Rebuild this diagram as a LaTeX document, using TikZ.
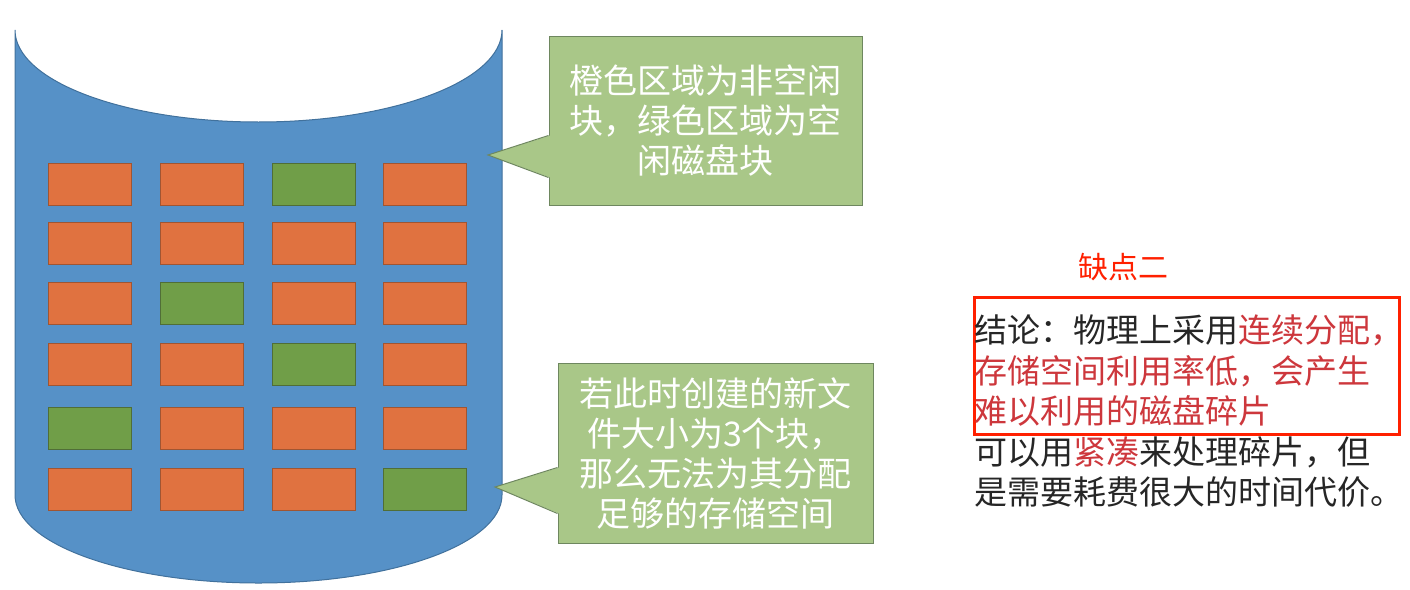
\documentclass[tikz,border=0pt]{standalone}
\usepackage{fontspec}
\setmainfont{Noto Sans CJK SC}
\usetikzlibrary{calc}

\definecolor{diskblue}{RGB}{86,145,199}
\definecolor{diskline}{RGB}{65,113,156}
\definecolor{busyfill}{RGB}{224,114,64}
\definecolor{busyline}{RGB}{160,85,50}
\definecolor{freefill}{RGB}{112,158,72}
\definecolor{freeline}{RGB}{80,110,55}
\definecolor{notefill}{RGB}{169,199,136}
\definecolor{noteline}{RGB}{110,135,95}
\definecolor{alertred}{RGB}{255,32,0}
\definecolor{textred}{RGB}{205,55,60}

\tikzset{
  busy/.style={draw=busyline, fill=busyfill, line width=1pt},
  freeblk/.style={draw=freeline, fill=freefill, line width=1pt},
  notebox/.style={draw=noteline, fill=notefill, line width=1pt, text=white,
    align=center, inner sep=0pt, font=\fontsize{34}{40}\selectfont},
  pointer/.style={draw=noteline, line width=1pt},
}

\begin{document}
\begin{tikzpicture}[x=1pt, y=1pt]
	\useasboundingbox (0,0) rectangle (1410,-589);
	% --- 磁盘（圆柱体） ---
	\filldraw[fill=diskblue, draw=diskline, line width=1pt] (15,-30)
		arc[start angle=180, end angle=360, x radius=243.5, y radius=92]
		-- (502,-495)
		arc[start angle=0, end angle=-180, x radius=243.5, y radius=88] -- cycle;
	% 磁盘块：先全部画成橙色（非空闲）
	\foreach \y in {163,222,282,343,407,468}
		\foreach \x in {48,160,272,383}
			\draw[busy] (\x,-\y) rectangle ++(83,-42);
	% 绿色为空闲块
	\foreach \x/\y in {272/163, 160/282, 272/343, 48/407, 383/468}
		\draw[freeblk] (\x,-\y) rectangle ++(83,-42);
	
	% --- 说明框一 ---
	\node[notebox, minimum width=313, minimum height=169] (noteA) at (705.5,-120.5)
		{橙色区域为非空闲\\块，绿色区域为空\\闲磁盘块};
	\coordinate (tipA) at (488,-155);
	\fill[notefill] ($(noteA.south west)+(1.5,28)$) -- (tipA) -- ($(noteA.south west)+(1.5,70)$) -- cycle;
	\draw[pointer] ($(noteA.south west)+(0,28)$) -- (tipA) -- ($(noteA.south west)+(0,70)$);
	
	% --- 说明框二 ---
	\node[notebox, minimum width=315, minimum height=180] (noteB) at (715.5,-453)
		{若此时创建的新文\\件大小为3个块，\\那么无法为其分配\\足够的存储空间};
	\coordinate (tipB) at (495,-487);
	\fill[notefill] ($(noteB.south west)+(1.5,30)$) -- (tipB) -- ($(noteB.south west)+(1.5,76)$) -- cycle;
	\draw[pointer] ($(noteB.south west)+(0,30)$) -- (tipB) -- ($(noteB.south west)+(0,76)$);
	
	% --- 结论 ---
	\node[alertred, font=\fontsize{30}{36}\selectfont] (flaw) at (1123,-267) {缺点二};
	\node[draw=alertred, line width=3pt, minimum width=425, minimum height=137,
		anchor=north west, inner sep=0pt] (frame) at (973,-296) {};
	\node[anchor=north west, align=left, inner sep=0pt, text=black!85,
		font=\fontsize{33}{40.5}\selectfont] (concl) at (974,-315)
		{结论：物理上采用\textcolor{textred}{连续分配，}\\
		 \textcolor{textred}{存储空间利用率低，会产生}\\
		 \textcolor{textred}{难以利用的磁盘碎片}\\
		 可以用\textcolor{textred}{紧凑}来处理碎片，但\\
		 是需要耗费很大的时间代价。};
\end{tikzpicture}
\end{document}
